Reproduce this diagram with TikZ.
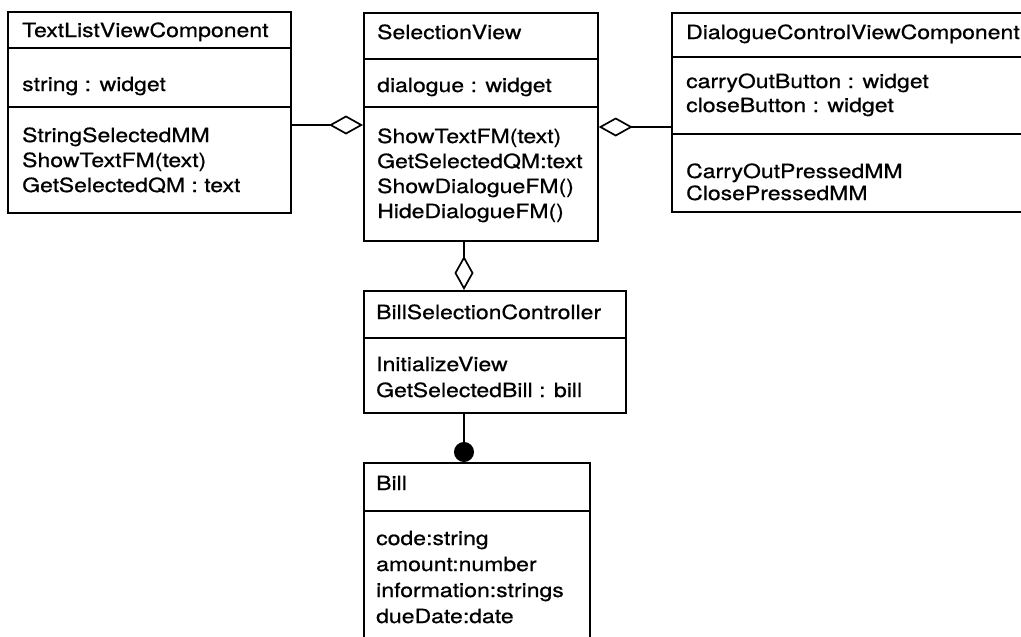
\documentclass[tikz,border=0pt]{standalone}
\usepackage{fontspec}
\setmainfont{TeX Gyre Heros}[FakeStretch=1.18,FakeBold=0.7]
\usetikzlibrary{arrows.meta,calc}
\begin{document}
\begin{tikzpicture}[x=1pt,y=1pt,
  comp/.style={draw=black, line width=1.7pt, anchor=north west, inner sep=0pt, minimum width=#1},
  lbl/.style={anchor=base west, inner sep=0pt, font=\fontsize{19.5}{24}\selectfont},
  aggr/.style={line width=1.7pt, -{Diamond[open,fill=white,length=34pt,width=19pt]}},
  compo/.style={line width=1.7pt, -{Circle[length=20pt]}}
]
\fill[white] (0,0) rectangle (1021,-637);
\useasboundingbox (0,0) rectangle (1021,-637);

% ---- TextListViewComponent
\node[comp=283pt, minimum height=36pt] (A1) at (7,-11) {};
\node[comp=283pt, minimum height=59pt] (A2) at (7,-47) {};
\node[comp=283pt, minimum height=106pt] (A3) at (7,-106) {};
\node[lbl] (tA1) at (22,-37) {TextListViewComponent};
\node[lbl] (tA2) at (22,-91) {string : widget};
\node[lbl] (tA3a) at (22,-142) {StringSelectedMM};
\node[lbl] (tA3b) at (22,-167) {ShowTextFM(text)};
\node[lbl] (tA3c) at (22,-192) {GetSelectedQM : text};

% ---- SelectionView
\node[comp=234pt, minimum height=46pt] (B1) at (363,-12) {};
\node[comp=234pt, minimum height=48pt] (B2) at (363,-58) {};
\node[comp=234pt, minimum height=134pt] (B3) at (363,-106) {};
\node[lbl] (tB1) at (377,-39) {SelectionView};
\node[lbl] (tB2) at (377,-92) {dialogue : widget};
\node[lbl] (tB3a) at (377,-143) {ShowTextFM(text)};
\node[lbl] (tB3b) at (377,-168) {GetSelectedQM:text};
\node[lbl] (tB3c) at (377,-193) {ShowDialogueFM()};
\node[lbl] (tB3d) at (377,-218) {HideDialogueFM()};

% ---- DialogueControlViewComponent
\node[comp=354pt, minimum height=44pt] (C1) at (671,-12) {};
\node[comp=354pt, minimum height=77pt] (C2) at (671,-56) {};
\node[comp=354pt, minimum height=78pt] (C3) at (671,-133) {};
\node[lbl] (tC1) at (686,-39) {DialogueControlViewComponent};
\node[lbl] (tC2a) at (686,-88) {carryOutButton : widget};
\node[lbl] (tC2b) at (686,-112) {closeButton : widget};
\node[lbl] (tC3a) at (686,-178) {CarryOutPressedMM};
\node[lbl] (tC3b) at (686,-200) {ClosePressedMM};

% ---- BillSelectionController
\node[comp=262pt, minimum height=47pt] (D1) at (363,-290) {};
\node[comp=262pt, minimum height=75pt] (D2) at (363,-337) {};
\node[lbl] (tD1) at (376,-319) {BillSelectionController};
\node[lbl] (tD2a) at (376,-371) {InitializeView};
\node[lbl] (tD2b) at (376,-397) {GetSelectedBill : bill};

% ---- Bill
\node[comp=226pt, minimum height=48pt] (E1) at (363,-462) {};
\node[comp=226pt, minimum height=160pt] (E2) at (363,-510) {};
\node[lbl] (tE1) at (376,-490) {Bill};
\node[lbl] (tE2a) at (376,-545) {code:string};
\node[lbl] (tE2b) at (376,-571) {amount:number};
\node[lbl] (tE2c) at (376,-597) {information:strings};
\node[lbl] (tE2d) at (376,-623) {dueDate:date};

% ---- connectors
\draw[aggr] ($(A3.north east)+(0,-19)$) -- ($(B3.north west)+(0,-19)$);
\draw[aggr] ($(C2.north west)+(0,-71)$) -- ($(B3.north east)+(0,-21)$);
\draw[aggr] ($(B3.south west)+(101,0)$) -- ($(D1.north west)+(101,0)$);
\draw[compo] ($(D2.south west)+(101,0)$) -- ($(E1.north west)+(101,0)$);
\end{tikzpicture}
\end{document}
